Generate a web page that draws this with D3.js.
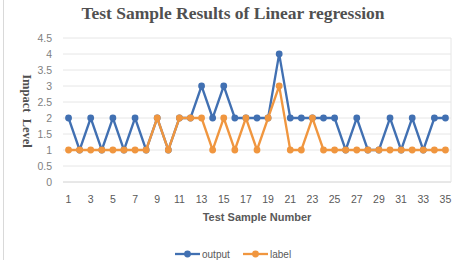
<!DOCTYPE html>
<html>
<head>
<meta charset="utf-8">
<script src="https://cdn.jsdelivr.net/npm/d3@7"></script>
<style>
  body { margin: 0; background: #fff; }
</style>
</head>
<body>
<script>
// chart values
const samples = d3.range(1, 36);
const output = [2,1,2,1,2,1,2,1,2,1,2,2,3,2,3,2,2,2,2,4,2,2,2,2,2,1,2,1,1,2,1,2,1,2,2];
const label  = [1,1,1,1,1,1,1,1,2,1,2,2,2,1,2,1,2,1,2,3,1,1,2,1,1,1,1,1,1,1,1,1,1,1,1];
const yTicks = [0,0.5,1,1.5,2,2.5,3,3.5,4,4.5];
const xTickLabels = samples.filter(d => d % 2 === 1);

const width = 463, height = 260;
const plot = {left: 63, right: 451, top: 38, bottom: 182};

const blue = "#4170b2", orange = "#f0963f";

let svg = d3.select("body").append("svg")
    .attr("width", width)
    .attr("height", height);

// outer chart frame
svg.append("rect")
    .attr("x", 3.5).attr("y", -1)
    .attr("width", width + 5).attr("height", height + 5)
    .attr("fill", "none").attr("stroke", "#d9d9d9");

let x = d3.scalePoint().domain(samples).range([plot.left, plot.right]).padding(0.5);
let y = d3.scaleLinear().domain([0, 4.5]).range([plot.bottom, plot.top]);

// gridlines
svg.append("g")
  .selectAll("line")
  .data(yTicks)
  .enter().append("line")
    .attr("x1", plot.left).attr("x2", plot.right)
    .attr("y1", d => y(d)).attr("y2", d => y(d))
    .attr("stroke", d => d === 0 ? "#d0d0d0" : "#e6e6e6")
    .attr("stroke-width", 1);

// light plot-area border on the right
svg.append("line")
    .attr("x1", plot.right).attr("x2", plot.right)
    .attr("y1", plot.top).attr("y2", plot.bottom)
    .attr("stroke", "#e6e6e6");

// y tick labels
svg.append("g")
  .selectAll("text")
  .data(yTicks)
  .enter().append("text")
    .attr("x", 52).attr("y", d => y(d))
    .attr("dy", "0.35em")
    .attr("text-anchor", "end")
    .attr("font-family", "Liberation Sans, Arial, sans-serif")
    .attr("font-size", 10.5)
    .attr("fill", "#7f7f7f")
    .text(d => d);

// x tick labels
svg.append("g")
  .selectAll("text")
  .data(xTickLabels)
  .enter().append("text")
    .attr("x", d => x(d)).attr("y", 199)
    .attr("dy", "0.35em")
    .attr("text-anchor", "middle")
    .attr("font-family", "Liberation Sans, Arial, sans-serif")
    .attr("font-size", 10.5)
    .attr("fill", "#595959")
    .text(d => d);

// series
const series = [
  {name: "output", values: output, color: blue},
  {name: "label", values: label, color: orange}
];

let line = d3.line()
    .x((d, i) => x(samples[i]))
    .y(d => y(d));

series.forEach(s => {
  let g = svg.append("g");
  g.append("path")
      .attr("d", line(s.values))
      .attr("fill", "none")
      .attr("stroke", s.color)
      .attr("stroke-width", 2.3)
      .attr("stroke-linejoin", "round");
  g.selectAll("circle")
    .data(s.values)
    .enter().append("circle")
      .attr("cx", (d, i) => x(samples[i]))
      .attr("cy", d => y(d))
      .attr("r", 3.4)
      .attr("fill", s.color);
});

// title
svg.append("text")
    .attr("x", 233).attr("y", 19)
    .attr("text-anchor", "middle")
    .attr("font-family", "Liberation Serif, Times New Roman, serif")
    .attr("font-weight", "bold")
    .attr("font-size", 17.5)
    .attr("fill", "#505050")
    .text("Test Sample Results of Linear regression");

// axis titles
svg.append("text")
    .attr("x", 257).attr("y", 217)
    .attr("dy", "0.35em")
    .attr("text-anchor", "middle")
    .attr("font-family", "Liberation Sans, Arial, sans-serif")
    .attr("font-weight", "bold")
    .attr("font-size", 11)
    .attr("fill", "#595959")
    .text("Test Sample Number");

svg.append("text")
    .attr("transform", "translate(23,111) rotate(90)")
    .attr("text-anchor", "middle")
    .attr("font-family", "Liberation Serif, Times New Roman, serif")
    .attr("font-weight", "bold")
    .attr("font-size", 12.5)
    .attr("fill", "#505050")
    .style("white-space", "pre")
    .text("Impact  Level");

// legend
let legend = svg.append("g")
  .selectAll("g")
  .data(series)
  .enter().append("g")
    .attr("transform", (d, i) => "translate(" + (175 + i * 68) + ",254)");

legend.append("line")
    .attr("x1", 0).attr("x2", 25)
    .attr("stroke", d => d.color)
    .attr("stroke-width", 2.3);
legend.append("circle")
    .attr("cx", 12.5).attr("r", 3.4)
    .attr("fill", d => d.color);
legend.append("text")
    .attr("x", 27).attr("dy", "0.35em")
    .attr("font-family", "Liberation Sans, Arial, sans-serif")
    .attr("font-size", 10)
    .attr("fill", "#595959")
    .text(d => d.name);
</script>
</body>
</html>
